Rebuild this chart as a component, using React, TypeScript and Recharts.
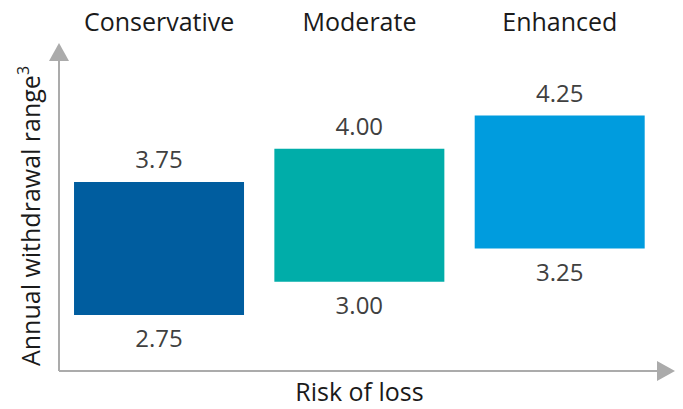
import { Bar, BarChart, Cell, LabelList, XAxis, YAxis } from "recharts";

const categories = ["Conservative", "Moderate", "Enhanced"];
const lows = [2.75, 3.0, 3.25];
const highs = [3.75, 4.0, 4.25];
const colors = ["#005D9F", "#00ADA9", "#009CDE"];

const data = categories.map((name, i) => ({ name, range: [lows[i], highs[i]] }));

const FONT = "'Open Sans', sans-serif";
const AXIS = "#ABABAB";

function CategoryTick({ x, y, payload }: any) {
  return (
    <text x={x} y={y - 30} textAnchor="middle" fontFamily={FONT} fontSize={25} fill="#1a1a1a">
      {payload.value}
    </text>
  );
}

function RangeLabels({ x, y, width, height, index }: any) {
  const top = Math.min(y, y + height);
  const bottom = Math.max(y, y + height);
  const cx = x + width / 2;
  return (
    <g fontFamily={FONT} fontSize={24} fill="#404040" textAnchor="middle">
      <text x={cx} y={top - 14}>{highs[index].toFixed(2)}</text>
      <text x={cx} y={bottom + 32}>{lows[index].toFixed(2)}</text>
    </g>
  );
}

function YLabel({ viewBox }: any) {
  const ax = viewBox.x + viewBox.width;
  const top = viewBox.y;
  const cy = viewBox.y + viewBox.height / 2;
  return (
    <g>
      <polygon points={`${ax - 10},${top} ${ax + 10},${top} ${ax},${top - 18}`} fill={AXIS} />
      <text
        x={ax - 19}
        y={cy}
        transform={`rotate(-90 ${ax - 19} ${cy})`}
        textAnchor="middle"
        fontFamily={FONT}
        fontSize={25}
        fill="#1a1a1a"
      >
        Annual withdrawal range
        <tspan dy={-11} fontSize={16}>3</tspan>
      </text>
    </g>
  );
}

function XLabel({ viewBox }: any) {
  const right = viewBox.x + viewBox.width - 3;
  const ay = viewBox.y;
  return (
    <g>
      <polygon points={`${right},${ay - 10} ${right},${ay + 10} ${right + 18},${ay}`} fill={AXIS} />
      <text
        x={viewBox.x + viewBox.width / 2}
        y={ay + 30}
        textAnchor="middle"
        fontFamily={FONT}
        fontSize={25}
        fill="#1a1a1a"
      >
        Risk of loss
      </text>
    </g>
  );
}

export default function App() {
  return (
    <div style={{ position: "absolute", left: 0, top: 0, width: 683, height: 409, background: "#fff" }}>
      <BarChart
        width={683}
        height={409}
        data={data}
        margin={{ top: 0, right: 23, bottom: 0, left: 0 }}
        barCategoryGap="7.5%"
      >
        <XAxis
          xAxisId="top"
          orientation="top"
          dataKey="name"
          height={61}
          axisLine={false}
          tickLine={false}
          tickSize={0}
          tickMargin={0}
          tick={<CategoryTick />}
        />
        <XAxis
          xAxisId="bottom"
          dataKey="name"
          height={38}
          tick={false}
          tickLine={false}
          axisLine={{ stroke: AXIS, strokeWidth: 2 }}
          label={<XLabel />}
        />
        <YAxis
          type="number"
          width={59}
          domain={[2.33, 4.66]}
          allowDataOverflow
          tick={false}
          tickLine={false}
          axisLine={{ stroke: AXIS, strokeWidth: 2 }}
          label={<YLabel />}
        />
        <Bar xAxisId="top" dataKey="range" isAnimationActive={false}>
          {data.map((_, i) => (
            <Cell key={i} fill={colors[i]} />
          ))}
          <LabelList dataKey="range" content={<RangeLabels />} />
        </Bar>
      </BarChart>
    </div>
  );
}
